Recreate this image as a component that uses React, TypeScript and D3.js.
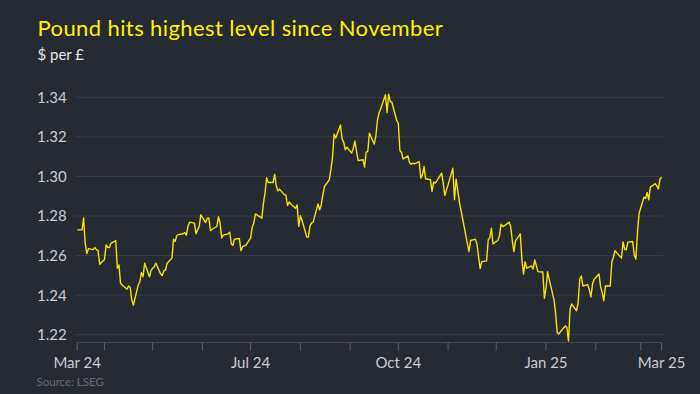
import React from 'react';
import * as d3 from 'd3';

// daily closes, $ per £ (weekdays 15 Mar 2024 - 14 Mar 2025)
const startDate = '2024-03-15';
const endDate = '2025-03-14';

const ratesSpring = [
  1.273, 1.273, 1.279, 1.266, 1.261, 1.2635, 1.263, 1.264, 1.263, 1.2625,
  1.2556, 1.258, 1.2654, 1.2642, 1.264, 1.2662, 1.2676, 1.2536, 1.2553, 1.246,
  1.2451, 1.243, 1.2446, 1.244, 1.2376, 1.235, 1.2451, 1.2468, 1.2514, 1.2493,
  1.2561, 1.2493, 1.2524, 1.2536, 1.2544, 1.2561, 1.2507, 1.2499, 1.2524, 1.2527,
  1.2561, 1.2587, 1.2683, 1.2671, 1.27, 1.2706, 1.271, 1.2716, 1.2703, 1.2747,
  1.2769, 1.2764, 1.271, 1.273, 1.2747, 1.2806, 1.2767, 1.2789, 1.279, 1.2726,
  1.2733, 1.2747, 1.2797, 1.2764, 1.2689, 1.2703, 1.271, 1.2718, 1.2659, 1.2652,
  1.2683, 1.2686, 1.2625, 1.2645, 1.2649, 1.2652, 1.2688, 1.2743,
];

const ratesSummer = [
  1.2764, 1.2811, 1.2806, 1.2789, 1.2865, 1.2915, 1.2994, 1.2969, 1.2969, 1.301,
  1.2952, 1.2927, 1.2936, 1.2908, 1.2905, 1.2853, 1.2871, 1.2861, 1.2839, 1.2856,
  1.2747, 1.2801, 1.278, 1.2693, 1.2693, 1.275, 1.2764, 1.2769, 1.2861, 1.2831,
  1.2856, 1.2907, 1.2949, 1.2983, 1.3033, 1.3093, 1.3214, 1.3194, 1.326, 1.319,
  1.3172, 1.3135, 1.3148, 1.3118, 1.3143, 1.3179, 1.3126, 1.308, 1.3084, 1.3047,
  1.3123, 1.3126, 1.3219, 1.3163, 1.3202, 1.3283, 1.332, 1.3341, 1.3413, 1.3323,
  1.3416, 1.3379, 1.3374, 1.3283, 1.327, 1.313, 1.3121, 1.3088, 1.3104, 1.307,
  1.3062, 1.3067, 1.3064, 1.3075, 1.2991, 1.3008, 1.305, 1.2988, 1.2983, 1.2924,
  1.2971, 1.2966, 1.2978, 1.3017, 1.2966, 1.2903, 1.2932, 1.2958, 1.3042,
];

const ratesWinter = [
  1.2882, 1.2986, 1.2932, 1.2873, 1.2747, 1.2705, 1.2662, 1.262, 1.2676, 1.2683,
  1.2659, 1.2595, 1.2534, 1.2569, 1.2573, 1.2679, 1.2691, 1.2738, 1.2659, 1.2676,
  1.27, 1.2759, 1.2747, 1.275, 1.2769, 1.2747, 1.2676, 1.262, 1.2674, 1.271,
  1.2578, 1.2506, 1.2569, 1.2537, 1.2548, 1.2531, 1.2578, 1.2548, 1.2519,
  1.2517, 1.2384, 1.2435, 1.2519, 1.248, 1.2376, 1.2308, 1.221, 1.2204, 1.2215,
  1.2244, 1.2237, 1.2168, 1.2329, 1.2355, 1.2321, 1.2359, 1.248, 1.2497, 1.2446,
  1.2453, 1.2426, 1.2392, 1.2457, 1.248, 1.2507, 1.2443, 1.2413, 1.2372, 1.2446,
  1.2446, 1.2569, 1.2592, 1.2625, 1.2615, 1.2587, 1.2669, 1.2632, 1.2629, 1.2668,
  1.2671, 1.2603, 1.2582, 1.2721, 1.2814, 1.2895, 1.2888, 1.2919, 1.2882, 1.2946,
  1.2963, 1.2952, 1.2937, 1.2986, 1.2996,
];

const yTicks = [1.22, 1.24, 1.26, 1.28, 1.3, 1.32, 1.34];
const labelMonths = [6, 9, 0]; // Jul, Oct, Jan get a label

const title = 'Pound hits highest level since November';
const subtitle = '$ per £';
const source = 'Source: LSEG';

const W = 700;
const H = 394;
const font = 'Lato, "Noto Sans", sans-serif';

export default function App() {
  const parse = d3.timeParse('%Y-%m-%d');
  const start = parse(startDate) as Date;
  const end = parse(endDate) as Date;

  const days = d3.timeDay.range(start, d3.timeDay.offset(end, 1))
    .filter(d => d.getDay() !== 0 && d.getDay() !== 6);
  const values = [...ratesSpring, ...ratesSummer, ...ratesWinter];
  const data = days.map((d, i) => ({ date: d, value: values[i] }))
    .filter(d => d.value !== undefined);

  const x = d3.scaleTime().domain([start, end]).range([77.2, 661.6]);
  const y = d3.scaleLinear().domain([1.22, 1.34]).range([334.7, 97.3]);

  const line = d3.line<{ date: Date; value: number }>()
    .x(d => x(d.date))
    .y(d => y(d.value));

  const monthTicks = d3.timeMonth.range(d3.timeDay.offset(start, 1), end);
  const ticks = [start, ...monthTicks, end];
  const fmt = d3.timeFormat('%b %y');
  const labels = [start, ...monthTicks.filter(d => labelMonths.includes(d.getMonth())), end];

  const axisY = 342.5;

  return (
    <svg width={W} height={H} style={{ position: 'absolute', left: 0, top: 0, display: 'block' }}>
      <rect width={W} height={H} fill="#262a33" />
      <text x={37.5} y={36} fill="#fff200" fontFamily={font} fontSize={22} letterSpacing={0.4}>{title}</text>
      <text x={37.5} y={59.5} fill="#e6e6e8" fontFamily={font} fontSize={15}>{subtitle}</text>

      {yTicks.map(t => (
        <g key={t}>
          <line x1={75} x2={663} y1={y(t)} y2={y(t)} stroke="#393d47" strokeWidth={1} />
          <text x={37} y={y(t)} dy="0.36em" fill="#c9cacf" fontFamily={font} fontSize={15}>
            {d3.format('.2f')(t)}
          </text>
        </g>
      ))}

      <line x1={x(start)} x2={x(end)} y1={axisY} y2={axisY} stroke="#444853" />
      {ticks.map(t => (
        <line key={+t} x1={x(t)} x2={x(t)} y1={axisY} y2={axisY + 8} stroke="#5b5f69" />
      ))}
      {labels.map(t => (
        <text key={+t} x={x(t)} y={363} dy="0.36em" textAnchor="middle" fill="#c9cacf"
          fontFamily={font} fontSize={15}>
          {fmt(t)}
        </text>
      ))}

      <path d={line(data) || ''} fill="none" stroke="#f7e400" strokeWidth={1.4} strokeLinejoin="round" />

      <text x={36.5} y={382} dy="0.36em" fill="#676a72" fontFamily={font} fontSize={11.5}>{source}</text>
    </svg>
  );
}
